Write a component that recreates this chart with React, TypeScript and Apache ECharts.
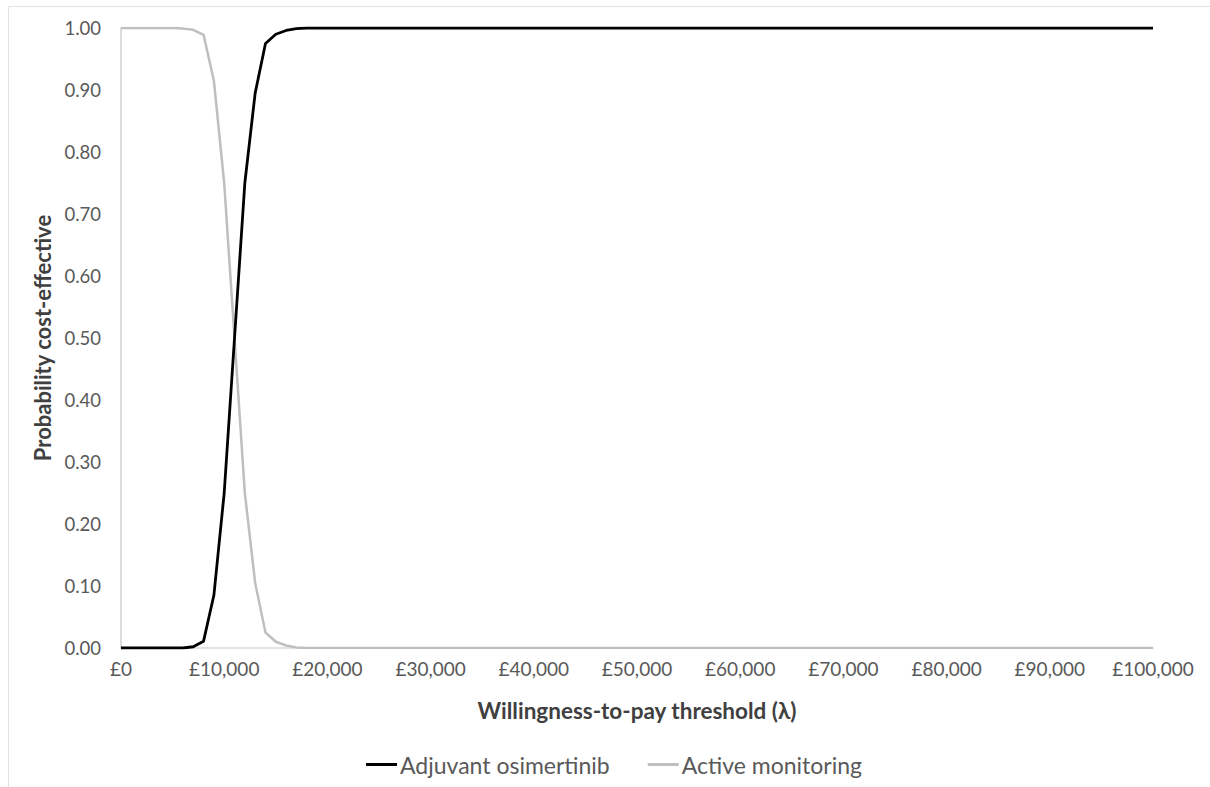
import React, { useEffect, useRef } from "react";
import * as echarts from "echarts";

const thresholds: number[] = Array.from({ length: 101 }, (_, i) => i * 1000);

const adjuvantOsimertinib: number[] = [
  0, 0, 0, 0, 0, 0, 0, 0.002, 0.011, 0.085,
  0.25, 0.5, 0.75, 0.895, 0.975, 0.99, 0.996, 0.999, 1, 1,
  1, 1, 1, 1, 1, 1, 1, 1, 1, 1,
  1, 1, 1, 1, 1, 1, 1, 1, 1, 1,
  1, 1, 1, 1, 1, 1, 1, 1, 1, 1,
  1, 1, 1, 1, 1, 1, 1, 1, 1, 1,
  1, 1, 1, 1, 1, 1, 1, 1, 1, 1,
  1, 1, 1, 1, 1, 1, 1, 1, 1, 1,
  1, 1, 1, 1, 1, 1, 1, 1, 1, 1,
  1, 1, 1, 1, 1, 1, 1, 1, 1, 1,
  1,
];

const activeMonitoring: number[] = [
  1, 1, 1, 1, 1, 1, 0.999, 0.997, 0.989, 0.915,
  0.75, 0.5, 0.25, 0.105, 0.025, 0.01, 0.004, 0.001, 0, 0,
  0, 0, 0, 0, 0, 0, 0, 0, 0, 0,
  0, 0, 0, 0, 0, 0, 0, 0, 0, 0,
  0, 0, 0, 0, 0, 0, 0, 0, 0, 0,
  0, 0, 0, 0, 0, 0, 0, 0, 0, 0,
  0, 0, 0, 0, 0, 0, 0, 0, 0, 0,
  0, 0, 0, 0, 0, 0, 0, 0, 0, 0,
  0, 0, 0, 0, 0, 0, 0, 0, 0, 0,
  0, 0, 0, 0, 0, 0, 0, 0, 0, 0,
  0,
];

const seriesNames = ["Adjuvant osimertinib", "Active monitoring"];
const xAxisTitle = "Willingness-to-pay threshold (λ)";
const yAxisTitle = "Probability cost-effective";

const FONT = "Lato, 'Open Sans', sans-serif";

export default function App() {
  const ref = useRef<HTMLDivElement>(null);

  useEffect(() => {
    if (!ref.current) return;
    const chart = echarts.init(ref.current, undefined, { renderer: "svg" });
    const toPairs = (vals: number[]) => thresholds.map((t, i) => [t, vals[i]]);
    chart.setOption({
      animation: false,
      backgroundColor: "#ffffff",
      textStyle: { fontFamily: FONT },
      graphic: [
        {
          type: "rect",
          shape: { x: 8.5, y: 6.5, width: 1220, height: 800 },
          style: { fill: "none", stroke: "#e3e3e3", lineWidth: 1 },
          silent: true,
        },
      ],
      grid: { left: 121, right: 57, top: 28, bottom: 139, containLabel: false },
      xAxis: {
        type: "value",
        min: 0,
        max: 100000,
        interval: 10000,
        name: xAxisTitle,
        nameLocation: "middle",
        nameGap: 51,
        nameTextStyle: { fontFamily: FONT, fontSize: 22.5, fontWeight: "bold", color: "#404040" },
        axisLine: { show: true, lineStyle: { color: "#d9d9d9", width: 1.5 } },
        axisTick: { show: false },
        splitLine: { show: false },
        axisLabel: {
          fontFamily: FONT,
          fontSize: 19,
          color: "#595959",
          margin: 11,
          formatter: (v: number) => "£" + v.toLocaleString("en-GB"),
        },
      },
      yAxis: {
        type: "value",
        min: 0,
        max: 1,
        interval: 0.1,
        name: yAxisTitle,
        nameLocation: "middle",
        nameGap: 64,
        nameTextStyle: { fontFamily: FONT, fontSize: 22, fontWeight: "bold", color: "#404040" },
        axisLine: { show: true, lineStyle: { color: "#d0d0d0", width: 1.5 } },
        axisTick: { show: false },
        splitLine: { show: false },
        axisLabel: {
          fontFamily: FONT,
          fontSize: 18.5,
          color: "#595959",
          margin: 20,
          formatter: (v: number) => v.toFixed(2),
        },
      },
      legend: {
        bottom: 6,
        left: 361,
        icon: "rect",
        itemWidth: 31,
        itemHeight: 3,
        itemGap: 38,
        textStyle: { fontFamily: FONT, fontSize: 23, color: "#595959", padding: [0, 0, 0, -2] },
        data: seriesNames,
      },
      series: [
        {
          name: seriesNames[0],
          type: "line",
          data: toPairs(adjuvantOsimertinib),
          showSymbol: false,
          symbol: "none",
          lineStyle: { color: "#000000", width: 2.8 },
          itemStyle: { color: "#000000" },
          z: 3,
        },
        {
          name: seriesNames[1],
          type: "line",
          data: toPairs(activeMonitoring),
          showSymbol: false,
          symbol: "none",
          lineStyle: { color: "#bfbfbf", width: 2.5 },
          itemStyle: { color: "#bfbfbf" },
          z: 2,
        },
      ],
    });
    return () => chart.dispose();
  }, []);

  return (
    <div
      ref={ref}
      style={{ position: "fixed", left: 0, top: 0, width: 1210, height: 787, background: "#fff" }}
    />
  );
}
